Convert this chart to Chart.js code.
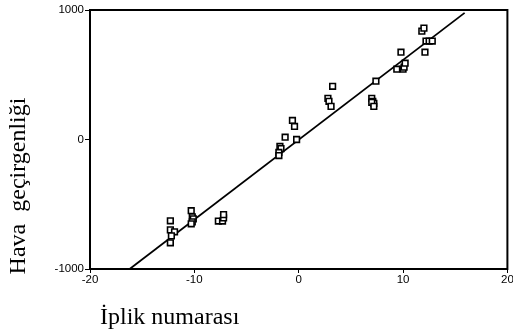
<!DOCTYPE html>
<html>
<head>
    <title>Hava geçirgenliği</title>
    <script src="https://cdn.jsdelivr.net/npm/chart.js@4/dist/chart.umd.min.js"></script>
    <style>
        body { margin: 0; background: #fff; }
        #wrap { width: 513px; height: 332px; }
    </style>
</head>
<body>
    <div id="wrap">
        <canvas id="scatter" width="513" height="332"></canvas>
    </div>

    <script>
        // observations: yarn count vs. air permeability
        const xValues = [
            -12.3, -12.3, -11.9, -12.2, -12.3,
            -10.3, -10.2, -10.1, -10.2, -10.3,
            -7.7, -7.3, -7.2, -7.2,
            -0.6, -0.4, -1.3, -1.8, -1.7, -1.9, -1.9, -0.2,
            3.25, 2.8, 2.9, 3.1,
            7.0, 7.1, 7.2, 7.0, 7.2, 7.4,
            9.8, 9.4, 10.0, 10.1, 10.2,
            11.8, 12.0, 12.1, 12.2, 12.5, 12.8
        ];
        const yValues = [
            -628, -698, -713, -744, -798,
            -550, -597, -612, -636, -651,
            -630, -630, -605, -580,
            147, 101, 18, -54, -70, -100, -124, 0,
            411, 318, 295, 256,
            318, 295, 279, 287, 256, 450,
            674, 543, 543, 558, 589,
            837, 860, 674, 760, 760, 760
        ];

        // fitted line end points
        const fitX = [-16.2, 15.9];
        const fitY = [-1000, 978];

        const xTicks = [-20, -10, 0, 10, 20];
        const yTicks = [-1000, 0, 1000];

        const xTitle = 'İplik numarası';
        const yTitle = 'Hava  geçirgenliği';

        const tickFont = { family: 'Liberation Sans, Arial, sans-serif', size: 11.5 };

        function toPoints(xs, ys) {
            return xs.map(function(x, i) {
                return { x: x, y: ys[i] };
            });
        }

        // frame around the plot area plus the two serif axis titles
        const frameAndTitles = {
            id: 'frameAndTitles',
            afterDraw: function(chart) {
                const ctx = chart.ctx;
                const a = chart.chartArea;
                ctx.save();
                ctx.strokeStyle = '#000';
                ctx.lineWidth = 2;
                ctx.strokeRect(a.left, a.top, a.right - a.left, a.bottom - a.top);

                ctx.fillStyle = '#000';
                ctx.font = '24px "Liberation Serif", "Times New Roman", serif';
                ctx.textBaseline = 'alphabetic';
                ctx.textAlign = 'left';
                ctx.fillText(xTitle, 100, 324);

                ctx.translate(25, 186);
                ctx.rotate(-Math.PI / 2);
                ctx.textAlign = 'center';
                ctx.fillText(yTitle, 0, 0);
                ctx.restore();
            }
        };

        function fixedX(scale) {
            scale.height = 63;
            scale.paddingLeft = 0;
            scale.paddingRight = 0;
        }

        function fixedY(scale) {
            scale.width = 90;
            scale.paddingTop = 0;
            scale.paddingBottom = 0;
        }

        function plainLabel(value) {
            return String(value);
        }

        const ctx = document.getElementById('scatter').getContext('2d');
        new Chart(ctx, {
            type: 'scatter',
            data: {
                datasets: [{
                    label: 'fit',
                    type: 'line',
                    data: toPoints(fitX, fitY),
                    borderColor: '#000',
                    borderWidth: 1.8,
                    pointRadius: 0,
                    fill: false,
                    order: 2
                }, {
                    label: 'obs',
                    data: toPoints(xValues, yValues),
                    pointStyle: 'rect',
                    pointRadius: 4,
                    borderWidth: 1.6,
                    borderColor: '#000',
                    backgroundColor: '#fff',
                    order: 1
                }]
            },
            options: {
                responsive: false,
                animation: false,
                layout: { padding: { top: 10, right: 4, left: 0, bottom: 0 } },
                plugins: {
                    legend: { display: false },
                    tooltip: { enabled: false }
                },
                scales: {
                    x: {
                        type: 'linear',
                        min: -20,
                        max: 20,
                        afterFit: fixedX,
                        afterBuildTicks: function(scale) {
                            scale.ticks = xTicks.map(function(v) { return { value: v }; });
                        },
                        border: { display: false },
                        grid: {
                            drawOnChartArea: false,
                            drawTicks: true,
                            tickLength: 4,
                            color: '#000',
                            lineWidth: 1
                        },
                        ticks: {
                            color: '#000',
                            font: tickFont,
                            padding: 0,
                            maxRotation: 0,
                            callback: plainLabel
                        }
                    },
                    y: {
                        type: 'linear',
                        min: -1000,
                        max: 1000,
                        afterFit: fixedY,
                        afterBuildTicks: function(scale) {
                            scale.ticks = yTicks.map(function(v) { return { value: v }; });
                        },
                        border: { display: false },
                        grid: {
                            drawOnChartArea: false,
                            drawTicks: true,
                            tickLength: 5,
                            color: '#000',
                            lineWidth: 1
                        },
                        ticks: {
                            color: '#000',
                            font: tickFont,
                            padding: 1,
                            callback: plainLabel
                        }
                    }
                }
            },
            plugins: [frameAndTitles]
        });
    </script>
</body>
</html>
